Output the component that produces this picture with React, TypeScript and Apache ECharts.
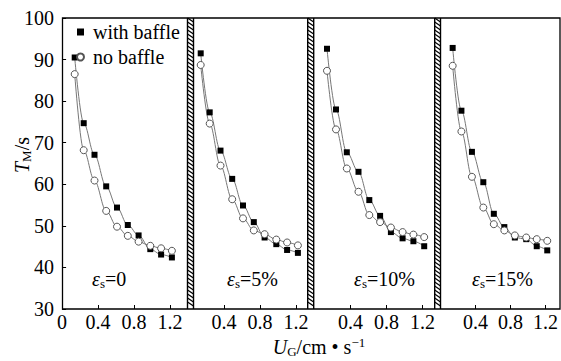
import React, { useEffect, useRef } from "react";
import * as echarts from "echarts";

// superficial gas velocity U_G (cm/s), same in every panel
const ugValues = [0.14, 0.24, 0.36, 0.49, 0.61, 0.73, 0.85, 0.98, 1.1, 1.22];

// mixing time T_M (s)
const withBaffle0 = [90.5, 74.7, 67.1, 59.5, 54.4, 50.2, 47.7, 44.4, 43.1, 42.4];
const noBaffle0 = [86.5, 68.2, 60.9, 53.6, 49.8, 47.6, 46.2, 45.2, 44.6, 44.0];
const withBaffle5 = [91.5, 77.3, 68.1, 61.3, 54.9, 50.9, 47.2, 45.6, 44.2, 43.5];
const noBaffle5 = [88.7, 74.6, 64.5, 56.4, 51.8, 48.9, 48.0, 46.7, 46.0, 45.3];
const withBaffle10 = [92.6, 78.0, 67.7, 63.0, 56.2, 52.4, 48.5, 47.0, 46.3, 45.1];
const noBaffle10 = [87.3, 73.2, 63.8, 58.2, 52.6, 50.9, 49.6, 48.5, 47.9, 47.3];
const withBaffle15 = [92.8, 77.7, 67.8, 60.5, 52.9, 49.7, 47.2, 46.8, 45.1, 44.1];
const noBaffle15 = [88.5, 72.7, 61.8, 54.4, 50.4, 48.9, 47.7, 47.2, 46.8, 46.4];

const panelNames = ["0", "5%", "10%", "15%"];
const withBaffleSets = [withBaffle0, withBaffle5, withBaffle10, withBaffle15];
const noBaffleSets = [noBaffle0, noBaffle5, noBaffle10, noBaffle15];

const firstPanelXLabels = [0, 0.4, 0.8, 1.2];
const otherPanelXLabels = [0.4, 0.8, 1.2];
const xTickValues = [0.4, 0.8, 1.2];
const yMin = 30;
const yMax = 100;
const yInterval = 10;

// layout
const FONT = "Liberation Serif";
const PX_PER_UNIT = 90;
const PLOT_TOP = 18;
const PLOT_H = 291;
const panelLefts = [62.1, 188.1, 314.4, 440.4];
const panelMax = [1.39, 1.33, 1.34, 1.329];
const separators = [
  [187.5, 193.5],
  [307.7, 313.7],
  [434.7, 440.5],
];
const panelLabelPos = [
  [92, 279],
  [227, 279],
  [354, 279],
  [472, 279],
];

function hatchBar(x0: number, x1: number): any {
  const children: any[] = [
    {
      type: "rect",
      shape: { x: x0, y: PLOT_TOP, width: x1 - x0, height: PLOT_H },
      style: { fill: "#fff", stroke: "none" },
    },
  ];
  for (let y = PLOT_TOP; y < PLOT_TOP + PLOT_H - 3; y += 4) {
    children.push({
      type: "line",
      shape: { x1: x0, y1: y, x2: x1, y2: y + 4 },
      style: { stroke: "#000", lineWidth: 1.3 },
    });
  }
  children.push({
    type: "line",
    shape: { x1: x0, y1: PLOT_TOP, x2: x0, y2: PLOT_TOP + PLOT_H },
    style: { stroke: "#000", lineWidth: 1.4 },
  });
  children.push({
    type: "line",
    shape: { x1: x1, y1: PLOT_TOP, x2: x1, y2: PLOT_TOP + PLOT_H },
    style: { stroke: "#000", lineWidth: 1.4 },
  });
  return { type: "group", silent: true, z: 20, children };
}

export default function App() {
  const ref = useRef<HTMLDivElement>(null);

  useEffect(() => {
    if (!ref.current) return;
    const chart = echarts.init(ref.current, null, { renderer: "svg" });

    const grids = panelLefts.map((left, i) => ({
      left,
      top: PLOT_TOP,
      width: panelMax[i] * PX_PER_UNIT,
      height: PLOT_H,
      show: false,
    }));

    const xAxes = panelLefts.map((_, i) => ({
      type: "value",
      gridIndex: i,
      min: 0,
      max: panelMax[i],
      axisLine: { show: false },
      splitLine: { show: false },
      axisTick: {
        show: true,
        inside: true,
        length: 4,
        customValues: xTickValues,
        lineStyle: { color: "#000", width: 1 },
      },
      axisLabel: {
        show: true,
        customValues: i === 0 ? firstPanelXLabels : otherPanelXLabels,
        formatter: (v: number) => (v === 0 ? "0" : v.toFixed(1)),
        color: "#000",
        fontSize: 20,
        fontFamily: FONT,
        margin: 3,
      },
    }));

    const yAxes = panelLefts.map((_, i) => ({
      type: "value",
      gridIndex: i,
      min: yMin,
      max: yMax,
      interval: yInterval,
      show: i === 0,
      axisLine: { show: false },
      splitLine: { show: false },
      axisTick: {
        show: i === 0,
        inside: true,
        length: 4,
        lineStyle: { color: "#000", width: 1 },
      },
      axisLabel: {
        show: i === 0,
        color: "#000",
        fontSize: 20,
        fontFamily: FONT,
        margin: 8,
      },
    }));

    const series: any[] = [];
    panelLefts.forEach((_, i) => {
      series.push({
        name: "with baffle",
        type: "line",
        xAxisIndex: i,
        yAxisIndex: i,
        data: ugValues.map((x, k) => [x, withBaffleSets[i][k]]),
        smooth: 0.35,
        smoothMonotone: "x",
        symbol: "rect",
        symbolSize: 6,
        lineStyle: { color: "#777", width: 1 },
        itemStyle: { color: "#000", borderWidth: 0 },
        z: 3,
      });
      series.push({
        name: "no baffle",
        type: "line",
        xAxisIndex: i,
        yAxisIndex: i,
        data: ugValues.map((x, k) => [x, noBaffleSets[i][k]]),
        smooth: 0.35,
        smoothMonotone: "x",
        symbol: "circle",
        symbolSize: 7,
        showAllSymbol: true,
        lineStyle: { color: "#777", width: 1 },
        itemStyle: { color: "#fff", borderColor: "#555", borderWidth: 1 },
        z: 3,
      });
    });

    const richBase = {
      i: { fontStyle: "italic", fontSize: 20, fontFamily: FONT, lineHeight: 22, verticalAlign: "middle", color: "#000" },
      n: { fontSize: 20, fontFamily: FONT, lineHeight: 22, verticalAlign: "middle", color: "#000" },
      sub: { fontSize: 13, fontFamily: FONT, lineHeight: 12, verticalAlign: "bottom", color: "#000" },
      sup: { fontSize: 13, fontFamily: FONT, lineHeight: 12, verticalAlign: "top", color: "#000" },
    };

    const graphics: any[] = [
      {
        type: "rect",
        silent: true,
        z: 15,
        shape: { x: 62.5, y: PLOT_TOP, width: 497.5, height: PLOT_H },
        style: { fill: "none", stroke: "#000", lineWidth: 1.3 },
      },
      ...separators.map(([a, b]) => hatchBar(a, b)),
      ...panelNames.map((name, i) => ({
        type: "text",
        silent: true,
        z: 16,
        x: panelLabelPos[i][0],
        y: panelLabelPos[i][1],
        style: {
          text: "{i|ε}{sub|s}{n|=" + name + "}",
          rich: richBase,
          font: "20px " + FONT,
          verticalAlign: "middle",
          align: "left",
        },
      })),
      {
        type: "text",
        silent: true,
        z: 16,
        x: 319,
        y: 347,
        style: {
          text: "{i|U}{sub|G}{n|/cm • s}{sup|−1}",
          rich: richBase,
          font: "20px " + FONT,
          align: "center",
          verticalAlign: "middle",
        },
      },
      {
        type: "text",
        silent: true,
        z: 16,
        x: 22,
        y: 155,
        rotation: Math.PI / 2,
        style: {
          text: "{i|T}{sub|M}{n|/s}",
          rich: richBase,
          font: "20px " + FONT,
          align: "center",
          verticalAlign: "middle",
        },
      },
    ];

    chart.setOption({
      animation: false,
      backgroundColor: "#fff",
      textStyle: { fontFamily: FONT },
      grid: grids,
      xAxis: xAxes,
      yAxis: yAxes,
      legend: {
        orient: "vertical",
        left: 76,
        top: 21,
        itemWidth: 7,
        itemHeight: 7,
        itemGap: 3,
        padding: 0,
        selectedMode: false,
        data: [
          { name: "with baffle", icon: "rect" },
          { name: "no baffle", icon: "circle" },
        ],
        textStyle: {
          color: "#000",
          fontSize: 20,
          fontFamily: FONT,
          lineHeight: 22,
          padding: [0, 0, 0, 4],
        },
      },
      series,
      graphic: graphics,
    });

    return () => chart.dispose();
  }, []);

  return (
    <div
      ref={ref}
      style={{ position: "fixed", left: 0, top: 0, width: 561, height: 361, background: "#fff" }}
    />
  );
}
